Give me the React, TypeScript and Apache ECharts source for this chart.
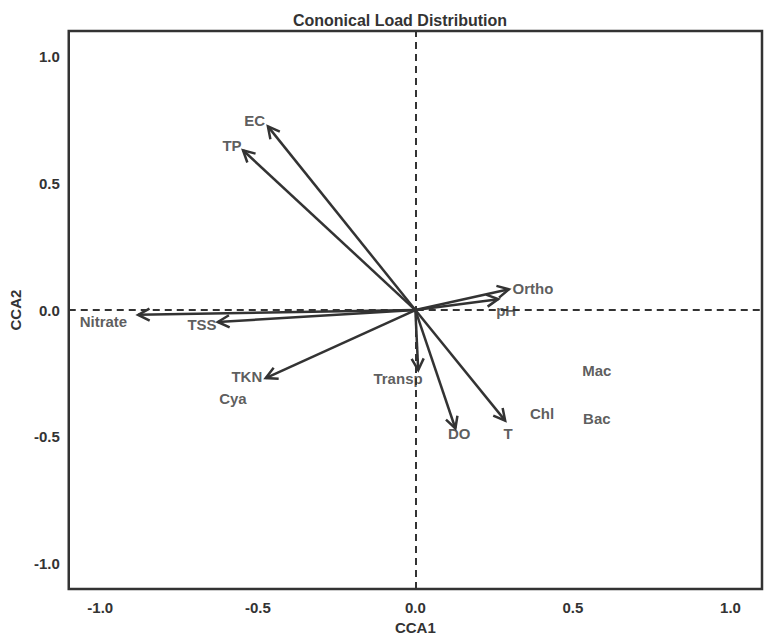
import React, { useEffect, useRef } from "react";
import * as echarts from "echarts";

const arrowNames = ["EC", "TP", "Ortho", "pH", "Nitrate", "TSS", "TKN", "Transp", "DO", "T"];
const arrowX = [-0.468, -0.547, 0.297, 0.263, -0.88, -0.627, -0.475, 0.009, 0.127, 0.285];
const arrowY = [0.724, 0.63, 0.082, 0.043, -0.019, -0.047, -0.268, -0.237, -0.467, -0.436];
const labelX = [-0.51, -0.582, 0.373, 0.288, -0.99, -0.677, -0.535, -0.055, 0.139, 0.294];
const labelY = [0.747, 0.65, 0.086, 0.0, -0.045, -0.055, -0.261, -0.27, -0.487, -0.487];

const speciesNames = ["Cya", "Chl", "Mac", "Bac"];
const speciesX = [-0.579, 0.402, 0.576, 0.576];
const speciesY = [-0.35, -0.407, -0.24, -0.427];

const tickValues = [-1, -0.5, 0, 0.5, 1];

const INK = "#333333";
const FONT = "Liberation Sans, Arial, sans-serif";

export default function App() {
  const ref = useRef<HTMLDivElement>(null);
  useEffect(() => {
    document.body.style.margin = "0";
    const chart = echarts.init(ref.current!, null, { renderer: "svg" });
    const arrowData = arrowNames.map((n, i) => ({ name: n, value: [arrowX[i], arrowY[i]] }));
    const labelData = [
      ...arrowNames.map((n, i) => ({ name: n, value: [labelX[i], labelY[i]] })),
      ...speciesNames.map((n, i) => ({ name: n, value: [speciesX[i], speciesY[i]] })),
    ];
    const axisLabelStyle = {
      customValues: tickValues,
      formatter: (v: number) => v.toFixed(1),
      fontFamily: FONT,
      fontWeight: "bold" as const,
      fontSize: 15,
      color: INK,
    };
    const nameStyle = { fontFamily: FONT, fontWeight: "bold" as const, fontSize: 15, color: INK };
    chart.setOption({
      animation: false,
      title: {
        text: "Cononical Load Distribution",
        left: 395,
        top: 7,
        textAlign: "center",
        textStyle: { fontFamily: FONT, fontWeight: "bold", fontSize: 16, color: INK },
      },
      grid: {
        left: 66,
        right: 2,
        top: 31,
        bottom: 44,
        show: true,
        borderColor: INK,
        borderWidth: 2.5,
        backgroundColor: "#fff",
      },
      xAxis: {
        type: "value",
        min: -1.1,
        max: 1.1,
        name: "CCA1",
        nameLocation: "middle",
        nameGap: 30,
        nameTextStyle: nameStyle,
        axisLine: { show: false },
        axisTick: { show: false },
        splitLine: { show: false },
        axisLabel: { ...axisLabelStyle, margin: 11 },
      },
      yAxis: {
        type: "value",
        min: -1.1,
        max: 1.1,
        name: "CCA2",
        nameLocation: "middle",
        nameGap: 38,
        nameTextStyle: nameStyle,
        axisLine: { show: false },
        axisTick: { show: false },
        splitLine: { show: false },
        axisLabel: { ...axisLabelStyle, margin: 9 },
      },
      series: [
        {
          type: "line",
          data: [],
          silent: true,
          markLine: {
            silent: true,
            symbol: "none",
            label: { show: false },
            lineStyle: { type: [7, 5], color: INK, width: 2 },
            data: [{ xAxis: 0 }, { yAxis: 0 }],
          },
        },
        {
          type: "custom",
          data: arrowData,
          silent: true,
          renderItem: (params: any, api: any) => {
            const o = api.coord([0, 0]);
            const t = api.coord([api.value(0), api.value(1)]);
            const ang = Math.atan2(t[1] - o[1], t[0] - o[0]);
            const L = 13;
            const spread = Math.PI / 6.5;
            const p1 = [t[0] - L * Math.cos(ang - spread), t[1] - L * Math.sin(ang - spread)];
            const p2 = [t[0] - L * Math.cos(ang + spread), t[1] - L * Math.sin(ang + spread)];
            const style = { stroke: INK, lineWidth: 2.5, fill: null };
            return {
              type: "group",
              children: [
                { type: "line", shape: { x1: o[0], y1: o[1], x2: t[0], y2: t[1] }, style },
                { type: "polyline", shape: { points: [p1, t, p2] }, style },
              ],
            };
          },
        },
        {
          type: "scatter",
          data: labelData,
          symbolSize: 0,
          silent: true,
          label: {
            show: true,
            position: "inside",
            formatter: (p: any) => p.name,
            fontFamily: FONT,
            fontWeight: "bold",
            fontSize: 15,
            color: INK,
          },
        },
      ],
    });
    return () => chart.dispose();
  }, []);
  return <div ref={ref} style={{ position: "absolute", left: 0, top: 0, width: 764, height: 640, background: "#fff" }} />;
}
